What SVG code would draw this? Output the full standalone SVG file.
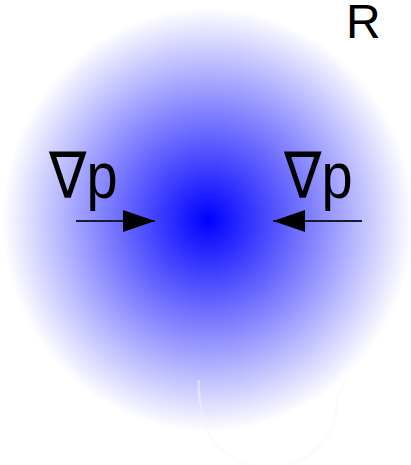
<svg xmlns="http://www.w3.org/2000/svg" width="411" height="465" viewBox="0 0 411 465">
<style>
.lbl{font-family:"Liberation Sans","DejaVu Sans",sans-serif;fill:#000}
.arr{stroke:#1a1a2e;stroke-width:2;fill:none}
</style>
<defs>
<radialGradient id="glow" cx="208" cy="220" r="206" gradientUnits="userSpaceOnUse" gradientTransform="translate(208 220) scale(1 1.03) translate(-208 -220)">
<stop offset="0" stop-color="#0000ff" stop-opacity="1"/>
<stop offset="1" stop-color="#0000ff" stop-opacity="0"/>
</radialGradient>
<marker id="head" viewBox="0 0 32 22" refX="32" refY="11" markerWidth="32" markerHeight="22" markerUnits="userSpaceOnUse" orient="auto">
<path d="M0 0 L32 11 L0 22 Z" fill="#000"/>
</marker>
</defs>
<rect width="411" height="465" fill="#fff"/>
<g id="blob">
<ellipse cx="208" cy="220" rx="206" ry="213" fill="url(#glow)"/>
<path d="M199 380 Q198 395 201 405 A68 66 0 0 0 337 398 Q342 385 350 372" fill="none" stroke="#f7f7fb" stroke-opacity="0.45" stroke-width="2.5"/>
</g>
<g id="label-R"><text class="lbl" x="346" y="38" font-size="48">R</text></g>
<g id="label-left"><text class="lbl" x="49" y="198" font-size="56" transform="translate(0 198) scale(1 1.15) translate(0 -198)">∇p</text></g>
<g id="label-right"><text class="lbl" x="284" y="198" font-size="56" transform="translate(0 198) scale(1 1.15) translate(0 -198)">∇p</text></g>
<g id="connectors">
<line class="arr" x1="76" y1="221" x2="155" y2="221" marker-end="url(#head)"/>
<line class="arr" x1="362" y1="221" x2="273" y2="221" marker-end="url(#head)"/>
</g>
</svg>
